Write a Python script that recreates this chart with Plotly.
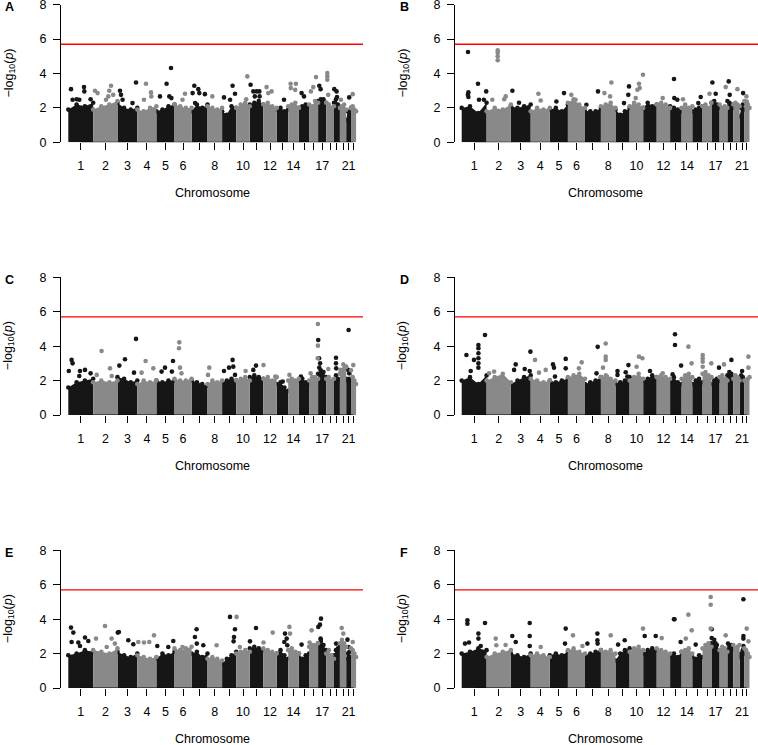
import plotly.graph_objects as go

# ---------------- data ----------------
CHROMS = list(range(1, 23))
CHR_LEN_MB = [249, 243, 198, 191, 181, 171, 159, 146, 141, 136, 135, 134,
              115, 107, 102, 90, 81, 78, 59, 63, 48, 51]
TICK_LABELS = ["1", "2", "3", "4", "5", "6", "", "8", "", "10", "", "12",
               "", "14", "", "", "17", "", "", "", "21", ""]
THRESHOLD = 5.7
PANELS = ["A", "B", "C", "D", "E", "F"]

# upper edge of the dense bulk of SNPs (-log10 p) per chromosome, 4 samples along it
A_env = [[1.9,2.2,2.1,2.3],[1.9,2.1,2.2,2.4],[2.3,2.0,1.9,2.0],[1.9,1.8,2.0,2.1],[1.8,1.9,2.1,2.2],
         [2.2,2.1,2.0,2.0],[1.8,2.2,2.0,2.2],[2.1,2.0,1.9,2.0],[1.8,1.6,2.1,2.0],[2.0,2.2,2.3,2.1],
         [2.2,2.3,2.4,2.2],[2.2,2.3,2.1,2.0],[1.9,2.0,1.8,1.9],[2.1,2.2,2.3,2.0],[2.0,2.1,2.2,2.1],
         [2.2,2.1,2.4,2.3],[2.4,2.5,2.5,2.3],[2.3,2.2,2.0,2.1],[2.3,2.5,2.2,2.0],[2.0,2.1,2.2,1.9],
         [1.3,1.8,1.7,2.0],[2.0,2.1,1.9,1.8]]
B_env = [[2.0,2.1,1.7,2.3],[1.8,2.0,1.9,2.2],[2.1,2.0,2.1,2.2],[1.8,2.0,1.9,2.0],[1.9,2.0,1.8,2.2],
         [2.3,2.5,2.2,2.0],[1.8,1.8,1.8,2.0],[2.1,2.2,2.3,2.0],[1.9,1.6,1.8,2.0],[2.1,2.3,2.2,2.0],
         [2.0,2.3,2.1,2.2],[2.2,2.3,2.2,2.0],[2.1,2.0,1.9,1.8],[2.0,2.2,2.0,2.1],[1.8,1.9,2.0,2.1],
         [2.1,2.2,2.0,2.3],[2.3,2.4,2.2,2.0],[2.2,2.0,2.1,2.0],[2.4,2.3,2.2,2.0],[2.2,2.3,2.2,2.1],
         [1.5,2.0,2.2,1.9],[2.4,2.3,2.2,2.0]]
C_env = [[1.6,1.9,2.0,2.1],[1.9,2.0,1.9,2.0],[2.2,2.1,1.9,2.0],[1.8,2.0,1.9,2.0],[2.0,1.9,2.0,2.0],
         [2.1,2.0,2.0,2.1],[2.0,1.9,1.8,1.7],[1.8,2.0,1.9,2.0],[1.9,2.0,2.1,2.0],[2.0,2.1,2.2,2.0],
         [2.2,2.3,2.2,2.1],[2.1,2.2,2.0,2.2],[1.8,1.9,1.6,1.4],[2.0,2.1,2.0,2.1],[2.0,2.1,1.9,1.8],
         [2.0,2.2,2.2,2.1],[2.4,2.6,2.5,2.2],[2.1,2.2,2.0,2.1],[2.0,2.3,2.1,2.0],[2.4,2.6,2.7,2.8],
         [2.1,2.0,2.1,2.0],[2.6,2.2,2.0,1.8]]
D_env = [[2.0,2.2,1.8,2.3],[2.0,2.2,2.4,1.9],[1.8,2.0,2.2,2.3],[2.1,2.0,1.9,2.0],[2.0,1.9,2.0,2.1],
         [2.2,2.3,2.4,2.1],[1.8,1.9,2.0,2.2],[2.2,2.3,2.1,2.0],[1.8,1.9,2.0,2.2],[2.0,2.2,2.4,2.1],
         [2.0,2.1,2.3,2.2],[2.2,2.3,2.2,2.1],[2.0,2.2,1.9,1.8],[2.1,2.3,2.4,2.2],[1.8,2.0,2.1,1.9],
         [2.4,2.5,2.3,2.2],[1.8,2.0,2.1,2.0],[2.2,2.3,2.1,2.0],[2.3,2.5,2.4,2.2],[2.1,2.3,2.2,2.0],
         [2.0,2.3,2.2,2.0],[2.0,1.9,2.1,2.2]]
E_env = [[1.9,2.0,2.2,2.1],[2.2,2.1,2.0,2.3],[2.1,1.9,1.8,2.0],[1.9,1.8,1.7,1.8],[1.7,2.0,1.9,2.1],
         [2.3,2.2,2.3,2.4],[2.0,2.1,1.8,2.0],[1.7,1.8,1.7,1.6],[1.4,1.7,1.9,2.1],[2.0,2.1,2.2,2.1],
         [2.3,2.4,2.3,2.2],[2.3,2.2,2.1,2.0],[2.0,2.2,1.9,1.7],[2.2,2.3,2.1,2.0],[2.0,1.7,1.9,2.0],
         [2.4,2.5,2.5,2.6],[2.6,2.8,2.5,2.2],[2.0,2.2,1.9,1.7],[1.9,2.2,2.3,2.4],[2.6,2.8,2.6,2.4],
         [1.7,2.0,2.1,1.8],[2.3,2.2,2.0,1.8]]
F_env = [[2.0,2.1,2.3,2.2],[1.8,2.0,2.1,2.2],[2.0,1.9,1.8,2.0],[1.9,2.0,1.9,1.8],[1.9,2.0,1.9,2.1],
         [2.2,2.3,2.1,2.0],[1.9,2.0,2.1,2.2],[2.2,2.1,2.2,2.0],[1.6,2.0,2.2,2.3],[2.1,2.3,2.4,2.2],
         [2.0,2.2,2.3,2.2],[2.3,2.2,2.1,2.0],[1.9,2.0,1.8,2.1],[2.1,2.2,2.3,2.0],[1.8,1.7,1.9,1.8],
         [2.3,2.5,2.6,2.4],[2.6,2.8,2.5,2.2],[2.2,2.4,2.3,2.1],[2.2,2.4,2.5,2.3],[2.5,2.3,2.4,2.5],
         [1.8,2.0,2.2,2.0],[2.3,2.2,2.0,1.8]]

# individual SNPs above the bulk: (chromosome, position in Mb, -log10 p)
A_hits = [(1,27,3.09),(1,43,2.47),(1,83,2.5),(1,110,2.47),(1,157,3.21),(1,160,2.96),(1,223,2.5),
          (2,18,3.0),(2,44,2.86),(2,128,2.47),(2,151,2.67),(2,161,3.0),(2,178,3.29),(2,200,2.76),
          (3,25,3.0),(3,35,2.76),(3,51,2.47),(3,150,2.28),(3,185,3.48),
          (4,67,2.47),(4,87,3.4),(4,137,2.9),(4,140,2.67),
          (5,36,2.67),(5,102,3.4),(5,129,2.67),(5,146,4.32),(5,150,2.57),
          (6,80,2.47),(6,105,2.82),
          (7,10,2.86),(7,27,3.29),(7,35,2.28),(7,67,3.09),(7,77,2.86),(7,133,2.8),
          (8,48,2.67),
          (9,19,2.61),(9,80,2.47),(9,105,3.29),(9,129,2.82),
          (10,100,2.5),(10,111,3.83),
          (11,8,3.35),(11,35,2.96),(11,50,2.67),(11,68,2.96),(11,95,2.96),(11,98,2.67),
          (12,33,3.21),(12,50,2.86),(12,83,2.96),
          (13,73,2.47),
          (14,24,3.4),(14,26,3.15),(14,70,3.05),(14,77,3.4),
          (15,27,2.86),(15,51,2.67),
          (16,18,2.96),(16,42,3.21),(16,69,3.79),
          (17,12,3.29),(17,25,3.09),
          (18,11,4.03),(18,11,3.83),(18,11,3.64),(18,20,2.76),
          (19,3,3.09),(19,26,2.96),(19,30,2.63),
          (20,10,2.47),(21,30,2.61),(22,17,2.8)]
B_hits = [(1,63,5.25),(1,67,2.9),(1,62,2.76),(1,67,2.63),(1,163,3.4),(1,173,2.47),(1,245,2.96),(1,222,2.47),
          (2,111,5.35),(2,111,5.2),(2,111,5.0),(2,111,4.77),(2,57,2.47),(2,176,2.5),(2,191,2.67),
          (3,15,3.0),(3,81,2.3),
          (4,77,2.82),(4,100,2.43),
          (5,66,2.37),(5,142,2.86),
          (6,34,2.76),(6,77,2.47),
          (7,14,2.18),(7,130,2.96),
          (8,35,2.86),(8,105,3.48),(8,92,2.67),
          (9,85,2.28),(9,128,2.76),(9,135,3.25),
          (10,78,3.05),(10,94,3.4),(10,101,3.15),(10,61,2.57),(10,134,3.93),
          (12,60,2.57),
          (13,39,3.68),(13,42,2.57),(13,72,2.47),
          (14,14,2.5),
          (15,60,2.28),(15,84,2.63),
          (16,70,2.82),
          (17,9,3.48),(17,42,2.82),
          (18,61,3.21),
          (19,13,3.54),(19,23,2.76),
          (20,41,3.09),(21,35,2.86),(22,20,2.67),(22,24,2.37)]
C_hits = [(1,33,3.2),(1,43,3.0),(1,5,2.56),(1,117,2.56),(1,167,2.62),(1,110,2.27),(1,223,2.42),
          (2,84,3.72),(2,35,2.33),(2,168,2.71),(2,185,2.27),
          (3,18,2.87),(3,75,3.24),(3,185,4.42),(3,165,2.46),
          (4,43,2.46),(4,83,3.14),(4,160,2.71),
          (5,52,2.52),(5,86,2.75),(5,166,3.14),(5,155,2.52),
          (6,48,4.22),(6,45,3.88),(6,55,2.75),(6,70,2.42),
          (8,18,2.75),(8,5,2.33),
          (9,19,2.56),(9,69,2.75),(9,105,3.2),(9,129,2.33),(9,112,2.81),
          (10,94,2.56),
          (11,62,2.87),(11,35,2.62),
          (12,2,2.9),(12,120,2.23),
          (13,60,1.94),(14,12,2.33),(15,20,2.23),
          (16,15,2.42),(16,88,5.29),(16,88,4.03),(16,86,3.3),
          (17,1,4.36),(17,10,3.3),(17,20,3.0),(17,12,2.75),(17,30,2.42),
          (18,21,2.67),
          (19,20,3.33),(19,20,3.0),(19,22,2.71),
          (20,34,2.94),(20,5,2.62),(20,60,2.81),
          (21,24,4.94),(21,20,2.62),(21,30,2.42),
          (22,23,2.9)]
D_hits = [(1,47,3.49),(1,90,2.56),(1,123,3.2),(1,167,4.07),(1,167,3.88),(1,167,3.59),(1,167,3.3),
          (1,167,3.0),(1,233,4.65),(1,167,2.75),
          (2,25,2.42),(2,75,2.52),
          (3,48,2.94),(3,32,2.62),(3,138,2.67),(3,195,3.68),(3,188,2.56),
          (4,43,3.2),(4,83,2.46),(4,150,2.62),
          (5,32,2.94),(5,42,2.75),(5,52,2.23),(5,159,3.26),(5,159,2.71),
          (6,138,3.06),(6,110,2.71),
          (7,127,3.96),(7,115,2.42),
          (8,48,4.15),(8,48,3.39),(8,48,3.2),(8,21,2.75),(8,61,2.23),
          (9,20,2.56),(9,20,2.33),(9,129,2.9),(9,102,2.48),(9,118,2.23),
          (10,94,3.39),(10,128,3.3),(10,70,2.8),
          (11,68,2.56),(12,60,2.42),
          (13,49,4.69),(13,49,4.07),(13,25,2.36),(13,110,2.87),
          (14,68,3.97),(14,100,3.0),
          (16,2,3.49),(16,2,3.3),(16,2,3.1),(16,2,2.8),(16,88,3.0),
          (17,75,2.75),(18,44,2.94),(19,40,3.2),(21,25,2.56),
          (22,40,3.39),(22,40,2.75)]
E_hits = [(1,27,3.51),(1,50,3.22),(1,33,2.67),(1,100,2.64),(1,167,2.93),(1,200,2.73),(1,117,2.44),
          (2,28,2.87),(2,118,3.6),(2,135,2.38),(2,184,2.87),(2,217,2.58),
          (3,3,3.22),(3,14,3.25),(3,108,2.77),(3,158,2.54),
          (4,10,2.67),(4,67,2.64),(4,120,2.67),(4,167,3.06),
          (5,9,2.44),(5,119,2.38),(5,169,2.73),
          (6,80,2.38),
          (7,50,3.41),(7,33,2.96),(7,52,2.58),(7,117,2.48),
          (8,91,2.48),
          (9,79,4.13),(9,129,3.41),(9,119,2.96),(9,115,2.71),
          (10,4,4.13),(10,37,2.38),
          (11,62,3.49),(11,2,2.71),
          (12,94,3.22),(12,2,2.64),
          (13,83,3.16),(13,100,2.87),(13,106,2.48),(13,76,2.67),
          (14,12,3.55),(14,18,3.16),
          (15,27,2.52),
          (16,5,2.64),(16,25,3.35),
          (17,29,4.03),(17,19,3.68),(17,2,3.55),(17,25,2.87),(17,27,2.67),
          (19,21,2.58),
          (20,18,3.49),(20,34,3.16),
          (21,13,2.81),(21,23,2.38),
          (22,17,2.67)]
F_hits = [(1,57,3.93),(1,57,3.74),(1,33,2.58),(1,73,2.64),(1,167,3.16),(1,167,2.87),(1,233,3.78),(1,190,2.44),
          (2,91,2.87),(2,97,2.48),(2,190,2.5),
          (3,14,3.02),(3,48,2.67),(3,188,3.78),(3,188,3.02),(3,188,2.44),
          (4,100,2.38),
          (5,159,3.45),(5,152,2.58),
          (6,51,3.06),(6,145,2.44),
          (7,24,2.58),(7,124,3.16),(7,124,2.77),(7,126,2.58),
          (8,98,3.06),
          (9,26,2.52),(9,92,2.77),
          (10,134,3.45),
          (11,15,3.02),(11,125,3.02),
          (12,50,2.9),
          (13,39,3.99),(13,44,3.99),(13,105,2.67),
          (14,68,4.26),(14,101,3.35),(14,42,2.87),
          (15,34,2.52),
          (16,82,5.29),(16,82,4.84),(16,82,3.45),
          (17,2,3.41),(17,2,2.9),(17,40,2.6),
          (18,61,3.06),(19,6,2.58),
          (21,38,5.16),(21,38,3.02),(21,38,2.87),(21,38,2.44),
          (22,23,3.45),(22,40,2.71)]

ENVS = {"A": A_env, "B": B_env, "C": C_env, "D": D_env, "E": E_env, "F": F_env}
HITS = {"A": A_hits, "B": B_hits, "C": C_hits, "D": D_hits, "E": E_hits, "F": F_hits}

# ---------------- layout / style ----------------
W, H = 758, 745
BLACK = "#161616"
GRAY = "#898989"
FONT = "Liberation Sans, Arial, Helvetica, sans-serif"
FS = 12.5

starts = []
acc = 0
for L in CHR_LEN_MB:
    starts.append(acc)
    acc += L
centers = [s + L / 2 for s, L in zip(starts, CHR_LEN_MB)]

# pixel geometry: (axis-left px, right px, top px (y=8), bottom px (y=0), x range)
GEOM = {
    "A": (61, 363, 4.7, 142.3, [-73, 2947]),
    "B": (455, 758, 4.7, 142.3, [-67, 2963]),
    "C": (61, 363, 277.3, 415, [-73, 2947]),
    "D": (455, 758, 277.3, 415, [-67, 2963]),
    "E": (61, 363, 550.3, 688, [-73, 2947]),
    "F": (455, 758, 550.3, 688, [-67, 2963]),
}

fig = go.Figure()
layout = dict(template="none", width=W, height=H, autosize=False,
              margin=dict(l=0, r=0, t=0, b=0, pad=0, autoexpand=False),
              paper_bgcolor="white", plot_bgcolor="white", showlegend=False,
              font=dict(family=FONT, size=FS, color="black"))
shapes = []
annotations = []

for i, p in enumerate(PANELS):
    n = i + 1
    xa = "x" if n == 1 else f"x{n}"
    ya = "y" if n == 1 else f"y{n}"
    left, right, top, bottom, xr = GEOM[p]
    env = ENVS[p]
    hits = HITS[p]

    for parity, col in ((0, BLACK), (1, GRAY)):
        px, py = [], []
        mx, my = [], []
        for c in range(parity, 22, 2):
            s, L = starts[c], CHR_LEN_MB[c]
            e = env[c]
            xs = [s + L * k / (len(e) - 1) for k in range(len(e))]
            px += [s] + xs + [s + L, None]
            py += [0] + e + [0, None]
            mx += xs
            my += e
        for (ch, pos, val) in hits:
            if (ch - 1) % 2 == parity:
                mx.append(starts[ch - 1] + pos)
                my.append(val)
        fig.add_trace(go.Scatter(x=px, y=py, xaxis=xa, yaxis=ya, mode="lines",
                                 fill="toself", fillcolor=col, line=dict(width=0, color=col),
                                 hoverinfo="skip"))
        fig.add_trace(go.Scatter(x=mx, y=my, xaxis=xa, yaxis=ya, mode="markers",
                                 marker=dict(color=col, size=4.6, line=dict(width=0)),
                                 cliponaxis=False, hoverinfo="skip"))

    xkey = "xaxis" if n == 1 else f"xaxis{n}"
    ykey = "yaxis" if n == 1 else f"yaxis{n}"
    layout[xkey] = dict(domain=[left / W, right / W], anchor=ya, range=xr, automargin=False,
                        showgrid=False, zeroline=False, showline=False, fixedrange=True,
                        tickmode="array", tickvals=centers, ticktext=TICK_LABELS,
                        ticks="outside", ticklen=7, tickwidth=1, tickcolor="black",
                        ticklabelstandoff=5, ticklabeloverflow="allow",
                        tickfont=dict(size=FS, family=FONT, color="black"))
    layout[ykey] = dict(domain=[1 - bottom / H, 1 - top / H], anchor=xa, range=[0, 8],
                        automargin=False, fixedrange=True,
                        showgrid=False, zeroline=False, showline=True, linecolor="black",
                        linewidth=1, tickmode="array", tickvals=[0, 2, 4, 6, 8],
                        ticks="outside", ticklen=7, tickwidth=1, tickcolor="black",
                        ticklabelstandoff=4, ticklabeloverflow="allow",
                        tickfont=dict(size=FS, family=FONT, color="black"))
    # x-axis baseline from first to last chromosome tick
    shapes.append(dict(type="line", xref=xa, yref=ya, x0=centers[0], x1=centers[-1],
                       y0=0, y1=0, line=dict(color="black", width=1), layer="above"))
    # significance threshold
    shapes.append(dict(type="line", xref=f"{xa} domain", yref=ya, x0=0, x1=1,
                       y0=THRESHOLD, y1=THRESHOLD, line=dict(color="#ff0000", width=1.3),
                       layer="above"))
    # panel letter
    letter_x = 3 if left < 300 else 398
    annotations.append(dict(text=f"<b>{p}</b>", xref="paper", yref="paper",
                            x=letter_x / W, y=1 - (top + 2.5) / H, xanchor="left", yanchor="middle",
                            showarrow=False, font=dict(size=12.5, family=FONT, color="black")))
    # y title
    ytitle_x = 9 if left < 300 else 403
    annotations.append(dict(text="\u2212log<sub>10</sub>(<i>p</i>)", xref="paper", yref="paper",
                            x=ytitle_x / W, y=1 - ((top + bottom) / 2) / H, textangle=-90,
                            xanchor="center", yanchor="middle", showarrow=False,
                            font=dict(size=FS, family=FONT, color="black")))
    # x title
    data_mid_px = left + (right - left) * ((0 + acc) / 2 - xr[0]) / (xr[1] - xr[0])
    annotations.append(dict(text="Chromosome", xref="paper", yref="paper",
                            x=data_mid_px / W, y=1 - (bottom + 51) / H,
                            xanchor="center", yanchor="middle", showarrow=False,
                            font=dict(size=FS, family=FONT, color="black")))

layout["shapes"] = shapes
layout["annotations"] = annotations
fig.update_layout(**layout)
fig.write_html("out.html", config={"displayModeBar": False, "staticPlot": True},
               post_script="document.body.style.margin='0px';")
